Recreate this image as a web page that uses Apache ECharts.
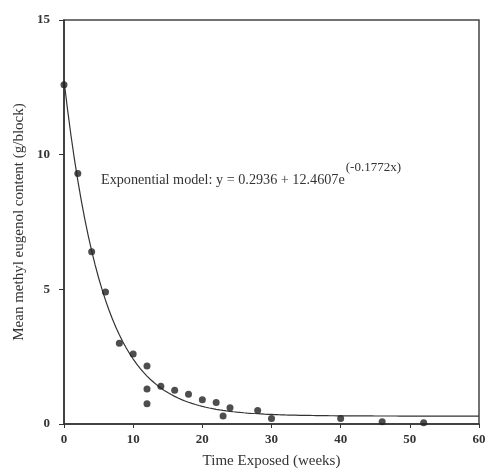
<!DOCTYPE html>
<html>
<head>
<meta charset="utf-8">
<script src="https://cdn.jsdelivr.net/npm/echarts@6/dist/echarts.min.js"></script>
<style>
  html, body { margin: 0; padding: 0; background: #fff; }
  #chart { width: 485px; height: 470px; }
</style>
</head>
<body>
<div id="chart"></div>
<script>
// Observed weeks of exposure and mean methyl eugenol content (g/block)
const weeks = [0, 2, 4, 6, 8, 10, 12, 12, 12, 14, 16, 18, 20, 22, 23, 24, 28, 30, 40, 46, 52];
const content = [12.6, 9.3, 6.4, 4.9, 3.0, 2.6, 2.15, 1.3, 0.75, 1.4, 1.25, 1.1, 0.9, 0.8, 0.3, 0.6, 0.5, 0.2, 0.2, 0.08, 0.05];

// Fitted exponential model y = a + b * e^(c x)
const modelA = 0.2936;
const modelB = 12.4607;
const modelC = -0.1772;

const xTicks = [0, 10, 20, 30, 40, 50, 60];
const yTicks = [0, 5, 10, 15];

const modelText = 'Exponential model: y = 0.2936 + 12.4607e';
const modelExp = '(-0.1772x)';

const points = weeks.map((w, i) => [w, content[i]]);
const fitted = [];
for (let x = 0; x <= 60; x += 0.5) {
  fitted.push([x, modelA + modelB * Math.exp(modelC * x)]);
}

const serif = '"Liberation Serif", "DejaVu Serif", serif';
const axisColor = '#333';
const mainSize = 14.2;
const expSize = 13;

// width of the main equation text, so the exponent sits right after the "e"
const ctx = document.createElement('canvas').getContext('2d');
ctx.font = mainSize + 'px ' + serif;
const mainWidth = ctx.measureText(modelText).width;
const textLeft = 101;

const chart = echarts.init(document.getElementById('chart'));
chart.setOption({
  backgroundColor: '#fff',
  animation: false,
  grid: {
    left: 64, right: 6, top: 20, bottom: 46,
    outerBoundsMode: 'none', containLabel: false,
    show: true, borderColor: '#444', borderWidth: 1.5
  },
  xAxis: {
    type: 'value', min: xTicks[0], max: xTicks[xTicks.length - 1], interval: 10,
    name: 'Time Exposed (weeks)', nameLocation: 'middle', nameGap: 30,
    nameTextStyle: { fontFamily: serif, fontSize: 15, color: '#333' },
    axisLine: { lineStyle: { color: axisColor, width: 1.5 } },
    axisTick: { show: true, length: 4, lineStyle: { color: axisColor } },
    axisLabel: { fontFamily: serif, fontSize: 13, fontWeight: 'bold', color: '#333', margin: 9 },
    splitLine: { show: false }
  },
  yAxis: {
    type: 'value', min: yTicks[0], max: yTicks[yTicks.length - 1], interval: 5,
    name: 'Mean methyl eugenol content (g/block)', nameLocation: 'middle', nameGap: 36,
    nameTextStyle: { fontFamily: serif, fontSize: 15, color: '#333' },
    axisLine: { lineStyle: { color: axisColor, width: 1.5 } },
    axisTick: { show: true, length: 5, lineStyle: { color: axisColor } },
    axisLabel: { fontFamily: serif, fontSize: 13, fontWeight: 'bold', color: '#333', margin: 14 },
    splitLine: { show: false }
  },
  series: [
    {
      type: 'line', data: fitted, showSymbol: false, smooth: false,
      lineStyle: { color: '#333', width: 1.2 }, z: 2
    },
    {
      type: 'scatter', data: points, symbol: 'circle', symbolSize: 7,
      itemStyle: { color: '#222' }, z: 3
    }
  ],
  graphic: [
    {
      type: 'text', x: textLeft, y: 180,
      style: {
        text: modelText, font: mainSize + 'px ' + serif, fill: '#333',
        textVerticalAlign: 'middle', verticalAlign: 'middle'
      }
    },
    {
      type: 'text', x: textLeft + mainWidth + 1, y: 168,
      style: {
        text: modelExp, font: expSize + 'px ' + serif, fill: '#333',
        textVerticalAlign: 'middle', verticalAlign: 'middle'
      }
    }
  ]
});
</script>
</body>
</html>
